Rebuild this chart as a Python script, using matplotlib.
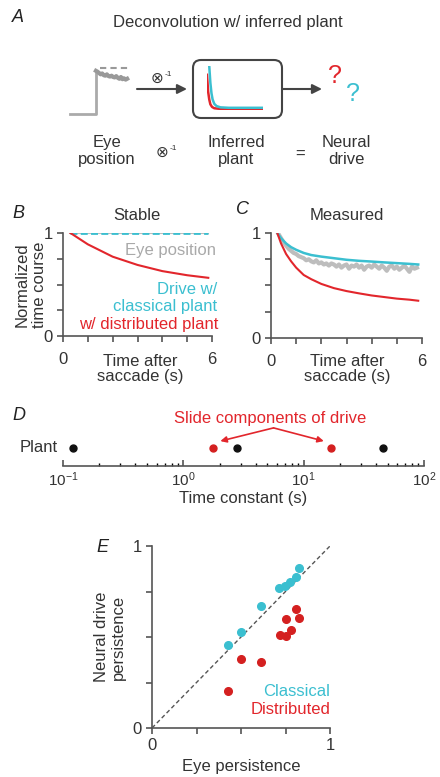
import numpy as np
import matplotlib
matplotlib.use("Agg")
import matplotlib.pyplot as plt
from matplotlib.patches import FancyBboxPatch

plt.rcParams['font.family'] = ['Liberation Sans', 'DejaVu Sans']
plt.rcParams['font.size'] = 12

W, H = 440, 777
CYAN = '#3bbfd0'
RED = '#e2262c'
GRAY = '#bdbdbd'
DARK = '#333333'
SPINE = '#555555'

# ---- data ----
# panel A icons
eye_step_t = [-1.0, 0.0, 0.0]
eye_step_v = [0.0, 0.0, 0.98]
eye_icon_v = [0.98, 0.96, 0.93, 0.90, 0.92, 0.88, 0.87, 0.90, 0.86, 0.85, 0.87,
              0.84, 0.83, 0.86, 0.82, 0.80, 0.84, 0.79, 0.81, 0.78, 0.80]
plant_t = [0.0, 0.02, 0.04, 0.06, 0.09, 0.13, 0.20, 0.35, 0.60, 1.0]
plant_cyan = [1.0, 0.62, 0.38, 0.24, 0.14, 0.09, 0.06, 0.05, 0.05, 0.05]
plant_red = [0.80, 0.42, 0.24, 0.13, 0.07, 0.04, 0.03, 0.02, 0.02, 0.02]

# panel B (stable)
stable_t = [0.3, 1.0, 2.0, 3.0, 4.0, 5.0, 5.85]
stable_eye = [1.0, 1.0, 1.0, 1.0, 1.0, 1.0, 1.0]
stable_classical = [1.0, 1.0, 1.0, 1.0, 1.0, 1.0, 1.0]
stable_distributed = [1.0, 0.89, 0.77, 0.69, 0.63, 0.59, 0.565]

# panel C (measured)
meas_t = [0.25, 0.4, 0.6, 0.8, 1.0, 1.3, 1.6, 2.0, 2.5, 3.0, 3.5, 4.0, 4.5, 5.0, 5.5, 5.85]
meas_classical = [1.0, 0.95, 0.90, 0.865, 0.84, 0.81, 0.79, 0.775, 0.76, 0.745, 0.735,
                  0.728, 0.72, 0.713, 0.706, 0.70]
meas_distributed = [1.0, 0.90, 0.80, 0.73, 0.67, 0.60, 0.56, 0.515, 0.475, 0.447, 0.425,
                    0.405, 0.39, 0.375, 0.365, 0.355]
meas_eye = [0.99, 0.95, 0.91, 0.88, 0.85, 0.83, 0.81, 0.80, 0.78, 0.77,
            0.76, 0.74, 0.75, 0.73, 0.72, 0.74, 0.71, 0.72, 0.70, 0.71,
            0.69, 0.71, 0.70, 0.68, 0.70, 0.67, 0.69, 0.70, 0.66, 0.69,
            0.68, 0.70, 0.67, 0.69, 0.65, 0.68, 0.69, 0.67, 0.70, 0.68,
            0.66, 0.69, 0.67, 0.64, 0.68, 0.69, 0.66, 0.68, 0.65, 0.67,
            0.69, 0.66, 0.63, 0.68, 0.66, 0.67]

# panel D (time constants, s)
plant_tau = [0.12, 2.8, 46.0]
slide_tau = [1.78, 16.8]

# panel E (persistence)
classical_x = [0.428, 0.50, 0.613, 0.713, 0.745, 0.777, 0.811, 0.825]
classical_y = [0.457, 0.530, 0.671, 0.768, 0.781, 0.804, 0.832, 0.881]
distributed_x = [0.428, 0.50, 0.613, 0.717, 0.751, 0.755, 0.783, 0.811, 0.826]
distributed_y = [0.205, 0.380, 0.360, 0.512, 0.503, 0.598, 0.539, 0.653, 0.605]


def rect(x0, y0, x1, y1):
    # pixel box (top-left origin) -> figure fraction
    return [x0 / W, 1 - y1 / H, (x1 - x0) / W, (y1 - y0) / H]


def style(ax):
    for s in ['top', 'right']:
        ax.spines[s].set_visible(False)
    for s in ['left', 'bottom']:
        ax.spines[s].set_color(SPINE)
        ax.spines[s].set_linewidth(1.2)
    ax.patch.set_alpha(0)
    ax.tick_params(colors=SPINE, labelcolor=DARK, width=1.2, length=4.5, labelsize=12)


fig = plt.figure(figsize=(W / 100, H / 100), dpi=100)

# overlay for labels and diagram, drawn on top
ov = fig.add_axes([0, 0, 1, 1])
ov.set_xlim(0, W)
ov.set_ylim(H, 0)
ov.axis('off')
ov.patch.set_alpha(0)
ov.set_zorder(5)

def txt(x, y, s, **kw):
    kw.setdefault('ha', 'center')
    kw.setdefault('va', 'center')
    kw.setdefault('color', DARK)
    ov.text(x, y, s, **kw)

for lab, (x, y) in zip('ABCDE', [(12, 18), (12, 213), (236, 210), (12, 415), (96, 547)]):
    txt(x, y, lab, style='italic', fontsize=13, ha='left', color='#222222')

# --- panel A ---
txt(228, 22, 'Deconvolution w/ inferred plant')
ov.add_patch(FancyBboxPatch((193, 60), 89, 58, boxstyle='round,pad=0,rounding_size=8',
                            fc='none', ec='#444444', lw=1.5))
for x0, x1 in [(137, 187), (283, 322)]:
    ov.annotate('', xy=(x1, 89), xytext=(x0, 89),
                arrowprops=dict(arrowstyle='-|>', color='#444444', lw=1.5,
                                mutation_scale=14, shrinkA=0, shrinkB=0))
txt(157, 79, '⊗', fontsize=11)
txt(168, 74, '-1', fontsize=6)
txt(335, 76, '?', color=RED, fontsize=18)
txt(353, 94, '?', color=CYAN, fontsize=18)
txt(107, 151, 'Eye\nposition')
txt(162, 153, '⊗', fontsize=11)
txt(173, 148, '-1', fontsize=6)
txt(236, 151, 'Inferred\nplant')
txt(300, 154, '=')
txt(346, 151, 'Neural\ndrive')

ax_eye = fig.add_axes(rect(66, 62, 132, 118))
ax_eye.axis('off')
ax_eye.set_xlim(-1.15, 1.385)
ax_eye.set_ylim(-0.09, 1.18)
ax_eye.plot(eye_step_t, eye_step_v, color='#aaaaaa', lw=2)
ax_eye.plot(np.linspace(0, 1.2, len(eye_icon_v)), eye_icon_v, color='#999999', lw=3)
ax_eye.plot([0.15, 1.23], [1.04, 1.04], color='#999999', lw=1.5, ls=(0, (3, 2)))

ax_pl = fig.add_axes(rect(207, 66, 263, 110))
ax_pl.axis('off')
ax_pl.set_xlim(0, 1)
ax_pl.set_ylim(0, 1)
ax_pl.plot(plant_t, plant_red, color=RED, lw=1.8)
ax_pl.plot([t + 0.04 for t in plant_t], plant_cyan, color=CYAN, lw=1.8)

# --- panel B ---
axB = fig.add_axes(rect(63, 233, 212, 336))
style(axB)
axB.set_xlim(0, 6)
axB.set_ylim(0, 1)
axB.plot(stable_t, stable_eye, color=GRAY, lw=1.5)
axB.plot(stable_t, stable_classical, color=CYAN, lw=2, ls=(0, (2.5, 1.2)))
axB.plot(stable_t, stable_distributed, color=RED, lw=1.5)
axB.set_xticks(range(7), ['0', '', '', '', '', '', '6'])
axB.set_yticks([0, 0.25, 0.5, 0.75, 1], ['0', '', '', '', '1'])
axB.tick_params(axis='x', pad=7)
axB.tick_params(axis='y', pad=3)
txt(137, 215, 'Stable')
txt(216, 250, 'Eye position', ha='right', color='#a9a9a9')
txt(217, 290, 'Drive w/', ha='right', color=CYAN)
txt(217, 307, 'classical plant', ha='right', color=CYAN)
txt(218, 325, 'w/ distributed plant', ha='right', color=RED)
txt(31, 285, 'Normalized\ntime course', rotation=90)
txt(140, 369, 'Time after\nsaccade (s)', linespacing=1.0)

# --- panel C ---
axC = fig.add_axes(rect(271, 233, 422, 338))
style(axC)
axC.set_xlim(0, 6)
axC.set_ylim(0, 1)
axC.plot(np.linspace(0.3, 5.8, len(meas_eye)), meas_eye, color=GRAY, lw=3)
axC.plot(meas_t, meas_classical, color=CYAN, lw=1.8)
axC.plot(meas_t, meas_distributed, color=RED, lw=1.5)
axC.set_xticks(range(7), ['0', '', '', '', '', '', '6'])
axC.set_yticks([0, 0.25, 0.5, 0.75, 1], ['0', '', '', '', '1'])
axC.tick_params(axis='x', pad=7)
axC.tick_params(axis='y', pad=3)
txt(347, 215, 'Measured')
txt(347, 369, 'Time after\nsaccade (s)', linespacing=1.0)

# --- panel D ---
axD = fig.add_axes(rect(63, 436, 424, 466))
style(axD)
axD.spines['left'].set_visible(False)
axD.set_xscale('log')
axD.set_xlim(0.1, 100)
axD.set_ylim(0, 1)
axD.set_yticks([])
axD.tick_params(axis='x', which='both', direction='in', pad=3, labelsize=11)
axD.tick_params(axis='x', which='minor', length=2.5, width=1)
axD.plot(plant_tau, [0.6] * len(plant_tau), 'o', color='#111111', ms=5)
axD.plot(slide_tau, [0.6] * len(slide_tau), 'o', color='#d42020', ms=5)
for xe in [2.03, 14.7]:
    axD.annotate('', xy=(xe, 0.83), xytext=(5.62, 1.27),
                 arrowprops=dict(arrowstyle='-|>', color=RED, lw=1.2,
                                 mutation_scale=9, shrinkA=0, shrinkB=0),
                 annotation_clip=False)
txt(270, 418, 'Slide components of drive', color=RED)
txt(58, 448, 'Plant', ha='right')
txt(243, 499, 'Time constant (s)')

# --- panel E ---
axE = fig.add_axes(rect(152, 546, 330, 728))
style(axE)
axE.set_xlim(0, 1)
axE.set_ylim(0, 1)
axE.plot([0, 1], [0, 1], color='#555555', lw=1, ls=(0, (3, 2)))
axE.plot(classical_x, classical_y, 'o', color=CYAN, ms=5.5)
axE.plot(distributed_x, distributed_y, 'o', color='#d42020', ms=5.5)
axE.set_xticks([0, 0.25, 0.5, 0.75, 1], ['0', '', '', '', '1'])
axE.set_yticks([0, 0.25, 0.5, 0.75, 1], ['0', '', '', '', '1'])
axE.tick_params(axis='x', pad=3)
axE.tick_params(axis='y', pad=3)
txt(330, 691, 'Classical', ha='right', color=CYAN)
txt(330, 710, 'Distributed', ha='right', color=RED)
txt(110, 637, 'Neural drive\npersistence', rotation=90)
txt(241, 767, 'Eye persistence')

fig.savefig('out.png', dpi=100)
